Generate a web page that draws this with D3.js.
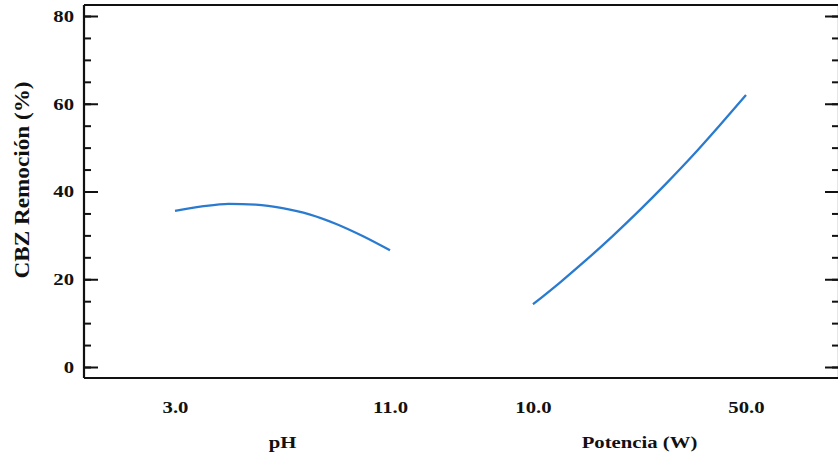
<!DOCTYPE html>
<html>
<head>
<meta charset="utf-8">
<script src="https://cdn.jsdelivr.net/npm/d3@7"></script>
<style>
  html, body { margin: 0; padding: 0; background: #fff; }
  svg { display: block; }
  text { font-family: "Liberation Serif", "Times New Roman", serif; font-weight: bold; fill: #111; }
</style>
</head>
<body>
<svg id="chart" width="838" height="459"></svg>
<script>
// Main-effects of each factor on CBZ removal
const phLevels = [3, 4, 5, 6, 7, 8, 9, 10, 11];
const phRemoval = [35.6, 36.6, 37.2, 37.0, 36.2, 34.8, 32.6, 29.8, 26.6];

const powerLevels = [10, 15, 20, 25, 30, 35, 40, 45, 50];
const powerRemoval = [14.3, 19.2, 24.4, 29.9, 35.7, 41.8, 48.2, 55.0, 62.0];

const phTicks = [3.0, 11.0];
const powerTicks = [10.0, 50.0];
const yTicks = [0, 20, 40, 60, 80];
const yMinorTicks = d3.range(0, 81, 5);

const factorTitles = ["pH", "Potencia (W)"];
const yTitle = "CBZ Remoción (%)";

const svg = d3.select("#chart");
const frame = { left: 84, right: 839, top: 5, bottom: 378 };
const stretch = 1.22; // wide lettering

const y = d3.scaleLinear().domain([0, 80]).range([367, 16]);

// each factor occupies its own segment of the shared horizontal axis
const xPh = d3.scaleLinear().domain([3, 11]).range([175, 390]);
const xPower = d3.scaleLinear().domain([10, 50]).range([533, 746]);

const blue = "#2a7bd0";

// widen a text element horizontally about its own anchor x
function widen(sel) {
  sel.each(function () {
    const t = d3.select(this);
    const x = +t.attr("x") || 0;
    t.attr("transform", `translate(${x},0) scale(${stretch},1) translate(${-x},0)`);
  });
}

// frame lines
const frameLines = [
  [frame.left, frame.top, frame.right, frame.top],
  [frame.left, frame.bottom, frame.right, frame.bottom],
  [frame.left, frame.top, frame.left, frame.bottom],
  [frame.right, frame.top, frame.right, frame.bottom]
];
svg.selectAll("line.frame").data(frameLines).join("line").attr("class", "frame")
  .attr("x1", d => d[0]).attr("y1", d => d[1]).attr("x2", d => d[2]).attr("y2", d => d[3])
  .attr("stroke", "#111").attr("stroke-width", 2.2);

// left axis: minor then major ticks pointing inward
function tickSet(axis, xPos) {
  svg.append("g").attr("transform", `translate(${xPos},0)`).call(axis)
    .call(g => g.select(".domain").remove())
    .selectAll("line").attr("stroke", "#111").attr("stroke-width", 2);
}
tickSet(d3.axisRight(y).tickValues(yMinorTicks).tickSize(7).tickFormat(""), frame.left);
tickSet(d3.axisRight(y).tickValues(yTicks).tickSize(14).tickFormat(""), frame.left);
// right axis ticks pointing inward
tickSet(d3.axisLeft(y).tickValues(yMinorTicks).tickSize(6).tickFormat(""), frame.right - 1);
tickSet(d3.axisLeft(y).tickValues(yTicks).tickSize(13).tickFormat(""), frame.right - 1);

// tick labels on the left
const leftLabels = d3.axisLeft(y).tickValues(yTicks).tickSize(0).tickPadding(10).tickFormat(d3.format("d"));
svg.append("g").attr("transform", `translate(${frame.left},0)`).call(leftLabels)
  .call(g => g.select(".domain").remove())
  .selectAll("text")
  .style("font-family", "'Liberation Serif', serif").style("font-weight", "bold")
  .style("font-size", "17px").attr("fill", "#111")
  .call(widen);

// bottom tick labels for each factor
function factorAxis(scale, ticks) {
  const ax = d3.axisBottom(scale).tickValues(ticks).tickSize(0).tickPadding(23).tickFormat(d3.format(".1f"));
  svg.append("g").attr("transform", `translate(0,${frame.bottom})`).call(ax)
    .call(g => g.select(".domain").remove())
    .selectAll("text")
    .style("font-family", "'Liberation Serif', serif").style("font-weight", "bold")
    .style("font-size", "17px").attr("fill", "#111")
    .call(widen);
}
factorAxis(xPh, phTicks);
factorAxis(xPower, powerTicks);

// factor titles
svg.append("text").attr("x", d3.mean(xPh.range())).attr("y", 448)
  .attr("text-anchor", "middle").style("font-size", "17px").text(factorTitles[0]).call(widen);
svg.append("text").attr("x", d3.mean(xPower.range())).attr("y", 448)
  .attr("text-anchor", "middle").style("font-size", "17px").text(factorTitles[1]).call(widen);

// y title
svg.append("text")
  .attr("transform", `translate(29,180) rotate(-90) scale(1.16,1.06)`)
  .attr("text-anchor", "middle").style("font-size", "20px").text(yTitle);

// effect curves
const line = (sx) => d3.line().x(d => sx(d[0])).y(d => y(d[1])).curve(d3.curveMonotoneX);

svg.append("path")
  .datum(d3.zip(phLevels, phRemoval))
  .attr("d", line(xPh))
  .attr("fill", "none").attr("stroke", blue).attr("stroke-width", 2.3);

svg.append("path")
  .datum(d3.zip(powerLevels, powerRemoval))
  .attr("d", line(xPower))
  .attr("fill", "none").attr("stroke", blue).attr("stroke-width", 2.3);
</script>
</body>
</html>
